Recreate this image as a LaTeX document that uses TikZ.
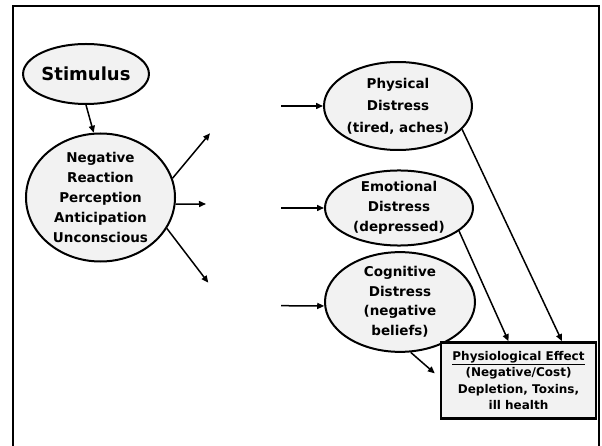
\documentclass[tikz,border=0pt]{standalone}
\usepackage{fontspec}
\setmainfont{DejaVu Sans}
\usetikzlibrary{shapes.geometric,arrows.meta}
\definecolor{paleshade}{HTML}{F2F2F2}
\begin{document}
\begin{tikzpicture}[x=1pt,y=-1pt,
  blob/.style={ellipse,draw=black,line width=2pt,fill=paleshade,
    inner sep=0pt,align=center,font=\bfseries\fontsize{13.5}{20}\selectfont},
  effectbox/.style={rectangle,draw=black,line width=2.4pt,fill=paleshade,
    inner sep=0pt,align=center,minimum width=155pt,minimum height=76pt,
    font=\bfseries\fontsize{12}{16.4}\selectfont},
  link/.style={line width=1.5pt,-{Triangle[length=7pt,width=6pt]}}]
\useasboundingbox (0,0) rectangle (602,446);
% outer frame, open at the bottom
\draw[line width=2pt] (13.3,446) -- (13.3,6) -- (598.5,6) -- (598.5,446);

% nodes
\node[blob,minimum width=110pt,minimum height=60pt,
      font=\bfseries\fontsize{18}{22}\selectfont] (stim) at (86,74) {Stimulus};
\node[blob,minimum width=149pt,minimum height=128pt] (neg) at (100.5,197.5)
  {Negative\\Reaction\\Perception\\Anticipation\\Unconscious};
\node[blob,minimum width=148pt,minimum height=88pt,
      font=\bfseries\fontsize{13.5}{22}\selectfont] (phys) at (398,106)
  {Physical\\Distress\\(tired, aches)};
\node[blob,minimum width=148pt,minimum height=66pt] (emo) at (399,208)
  {Emotional\\Distress\\(depressed)};
\node[blob,minimum width=150pt,minimum height=82pt,
      font=\bfseries\fontsize{13.5}{19.5}\selectfont] (cog) at (400,302)
  {Cognitive\\Distress\\(negative\\beliefs)};
\node[effectbox] (box) at (518.5,380.4)
  {\underline{Physiological Effect}\\(Negative/Cost)\\Depletion, Toxins,\\ill health};

% free ends of the short arrows
\coordinate (u1) at (210,133.3);
\coordinate (u2) at (206,204);
\coordinate (u3) at (208.3,282.7);
\coordinate (v1) at (281,106);
\coordinate (v2) at (281,208);
\coordinate (v3) at (281,305.7);

% connectors
\draw[link] (stim.south) -- (neg.96);
\draw[link] (neg.15) -- (u1);
\draw[link] (neg.-5) -- (u2);
\draw[link] (neg.-25) -- (u3);
\draw[link] (v1) -- (phys.west);
\draw[link] (v2) -- (emo.west);
\draw[link] (v3) -- (cog.183);
\draw[link] (phys.-20) -- ([xshift=43.5pt]box.north);
\draw[link] (emo.-21) -- ([xshift=-10pt]box.north);
\draw[link] (cog.-78) -- ([xshift=-5pt,yshift=7pt]box.west);
\end{tikzpicture}
\end{document}
